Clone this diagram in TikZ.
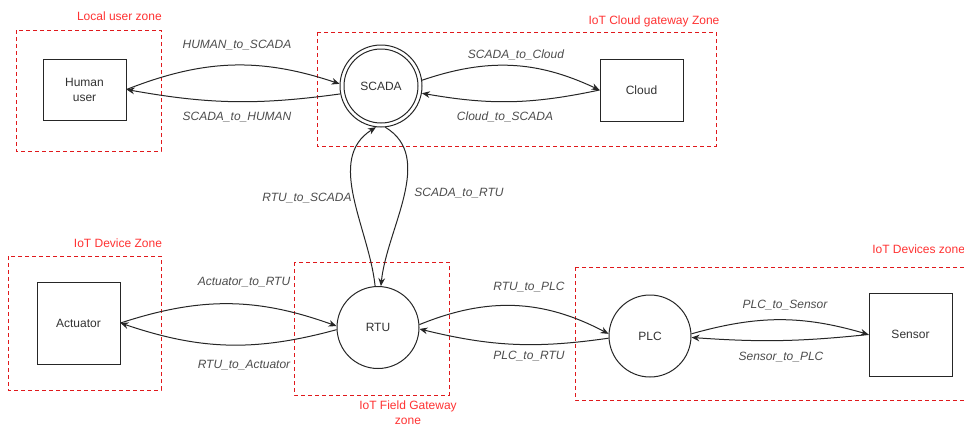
\documentclass[tikz,border=0pt]{standalone}
\usepackage{fontspec}
\setmainfont{Liberation Sans}
\usetikzlibrary{arrows.meta}
\definecolor{zonered}{HTML}{E0191C}
\definecolor{zonetext}{HTML}{FF3333}
\definecolor{txt}{HTML}{333333}
\definecolor{lbl}{HTML}{4D4D4D}
\definecolor{edge}{HTML}{262626}
\begin{document}
\begin{tikzpicture}[x=0.75pt,y=-0.75pt,
  font=\fontsize{9pt}{11.25pt}\selectfont,
  zone/.style={draw=zonered,dash pattern=on 3pt off 2.25pt,line width=0.75pt},
  zonelabel/.style={text=zonetext,inner sep=0pt},
  boxnode/.style={draw=edge,line width=0.75pt,text=txt,minimum width=62.25pt,align=center,inner sep=0pt},
  circnode/.style={draw=edge,circle,line width=0.75pt,text=txt,minimum size=61.5pt,inner sep=0pt},
  conn/.style={draw=edge,line width=0.75pt,-{Stealth[length=6pt,width=5pt]}},
  lab/.style={text=lbl,font=\fontsize{9pt}{11.25pt}\selectfont\itshape,inner sep=0pt}
]
\useasboundingbox (0,0) rectangle (964,426);
\fill[white] (0,0) rectangle (964,426);

% zones
\draw[zone] (16,30) rectangle (161,151);
\draw[zone] (317,32) rectangle (716,146);
\draw[zone] (8,256) rectangle (161,390);
\draw[zone] (294,262) rectangle (449,395);
\draw[zone] (575,267) rectangle (990,400);

\node[zonelabel,anchor=east] (z1) at (162,16) {Local user zone};
\node[zonelabel] (z2) at (654,21) {IoT Cloud gateway Zone};
\node[zonelabel] (z3) at (118,243) {IoT Device Zone};
\node[zonelabel,align=center] (z4) at (408,413) {IoT Field Gateway\\zone};
\node[zonelabel,anchor=west] (z5) at (872,249) {IoT Devices zone};

% nodes
\node[boxnode,minimum height=45.75pt] (hu) at (84.5,89.5) {Human\\user};
\node[boxnode,minimum height=46.5pt] (cl) at (641.5,90) {Cloud};
\node[boxnode,minimum height=61.5pt] (ac) at (78.5,323) {Actuator};
\node[boxnode,minimum height=62.25pt] (se) at (910.5,334.5) {Sensor};
\node[circnode] (sc) at (381,86) {SCADA};
\draw[draw=edge,line width=0.75pt] (sc.center) circle[radius=27.75pt];
\node[circnode] (rt) at (378,327.5) {RTU};
\node[circnode] (pl) at (650,336) {PLC};

% connectors
\draw[conn] (hu.east) to[bend left=20] (sc.177);
\draw[conn] (sc.191) to[bend left=9] (hu.east);
\draw[conn] (sc.8) to[bend left=22] (cl.west);
\draw[conn] (cl.west) to[bend left=11] (sc.-10);
\draw[conn] (rt.94) .. controls +(-6,-58) and +(-51,32) .. (sc.263);
\draw[conn] (sc.276) .. controls +(50,30) and +(6,-58) .. (rt.86);
\draw[conn] (ac.east) to[bend left=19] (rt.178);
\draw[conn] (rt.183) to[bend left=17] (ac.east);
\draw[conn] (rt.4) to[bend left=25] (pl.177);
\draw[conn] (pl.183) to[bend left=11] (rt.358);
\draw[conn] (pl.3) to[bend left=16] (se.west);
\draw[conn] (se.west) to[bend left=5] (pl.-2);

% labels
\node[lab] (l1) at (237,45) {HUMAN\_to\_SCADA};
\node[lab] (l2) at (237,117) {SCADA\_to\_HUMAN};
\node[lab] (l3) at (516,55) {SCADA\_to\_Cloud};
\node[lab] (l4) at (505,117) {Cloud\_to\_SCADA};
\node[lab] (l5) at (307,198) {RTU\_to\_SCADA};
\node[lab] (l6) at (459,193) {SCADA\_to\_RTU};
\node[lab] (l7) at (244,282) {Actuator\_to\_RTU};
\node[lab] (l8) at (244,365) {RTU\_to\_Actuator};
\node[lab] (l9) at (529,287) {RTU\_to\_PLC};
\node[lab] (l10) at (529,356) {PLC\_to\_RTU};
\node[lab] (l11) at (785,305) {PLC\_to\_Sensor};
\node[lab] (l12) at (781,357) {Sensor\_to\_PLC};
\end{tikzpicture}
\end{document}
